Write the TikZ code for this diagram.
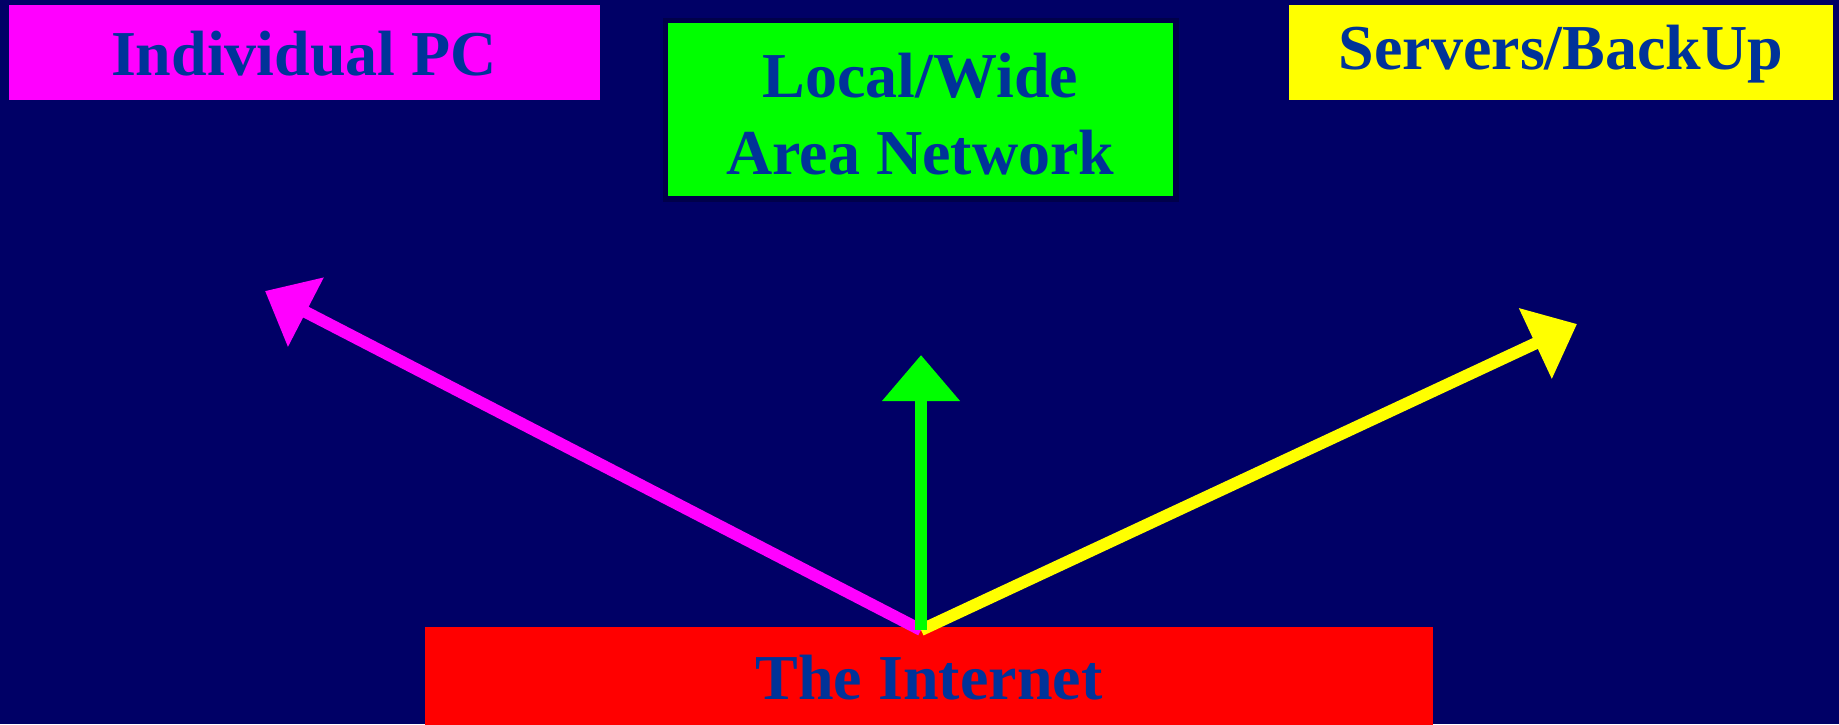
\documentclass[tikz,border=0pt]{standalone}
\usepackage{fontspec}
\setmainfont{Liberation Serif}
\usetikzlibrary{arrows.meta}
\definecolor{navy}{HTML}{000066}
\definecolor{shadowblue}{HTML}{00004A}
\definecolor{labelblue}{HTML}{003399}
\definecolor{pcmag}{HTML}{FF00FF}
\definecolor{langreen}{HTML}{00FF00}
\definecolor{srvyellow}{HTML}{FFFF00}
\definecolor{netred}{HTML}{FF0000}

\begin{document}
\begin{tikzpicture}[x=1pt,y=-1pt,
  box/.style={inner sep=0pt, outer sep=0pt},
  label text/.style={inner sep=0pt, text=labelblue, align=center,
    font=\fontsize{64}{77}\selectfont\bfseries},
  link/.style={line width=12pt, -{Triangle[length=46pt,width=75pt]}}]

% background
\fill[navy] (0,0) rectangle (1839,724);
\useasboundingbox (0,0) rectangle (1839,724);

% top boxes
\node[box, fill=pcmag, minimum width=591pt, minimum height=95pt] (pc) at (304.5,52.5) {};
\node[label text] (pcText) at (304,54) {Individual PC};

\fill[shadowblue] (663,18) rectangle (1179,202);
\node[box, fill=langreen, minimum width=505pt, minimum height=173pt] (lan) at (920.5,109.5) {};
\node[label text] (lanText) at (920.5,114) {Local/Wide\\Area Network};

\node[box, fill=srvyellow, minimum width=544pt, minimum height=95pt] (srv) at (1561,52.5) {};
\node[label text] (srvText) at (1561,54) {Servers/BackUp};

% bottom box
\node[box, fill=netred, minimum width=1008pt, minimum height=102pt] (net) at (929,678) {};
\node[label text] (netText) at (929,678) {The Internet};

% connectors
\coordinate (hub) at (921,630);
\coordinate (pcTip) at (265,291);
\coordinate (lanTip) at (921,355);
\coordinate (srvTip) at (1577,324);

\draw[link, pcmag] (hub) -- (pcTip);
\draw[link, srvyellow] (hub) -- (srvTip);
\draw[link, langreen] (hub) -- (lanTip);
\end{tikzpicture}
\end{document}
